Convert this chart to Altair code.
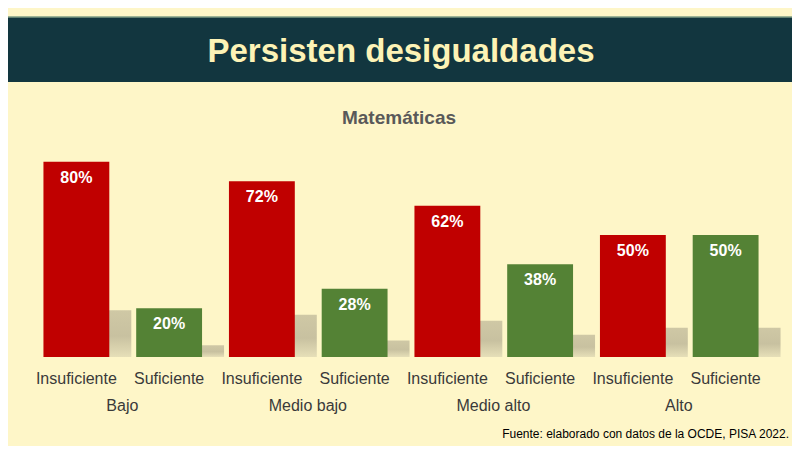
import altair as alt
import pandas as pd

# ---- data ----
levels = ["Bajo", "Medio bajo", "Medio alto", "Alto"]
categories = ["Insuficiente", "Suficiente"]
insuficiente = [80, 72, 62, 50]
suficiente = [20, 28, 38, 50]

title_text = "Persisten desigualdades"
subtitle_text = "Matemáticas"
source_text = "Fuente: elaborado con datos de la OCDE, PISA 2022."

rows = []
for lvl, vi, vs in zip(levels, insuficiente, suficiente):
    for cat, v in zip(categories, [vi, vs]):
        rows.append({"key": f"{lvl}|{cat}", "level": lvl, "cat": cat,
                     "value": v, "label": f"{v}%"})
df = pd.DataFrame(rows)
keys = list(df["key"])
groups = pd.DataFrame({"level": levels, "key": [f"{l}|Insuficiente" for l in levels]})

BG = "#FEF6C8"
BAND = "#12363F"
RED = "#C00000"
GREEN = "#548235"
FONT = "Liberation Sans"

W, H = 742, 244

x_enc = alt.X(
    "key:N", sort=keys, title=None,
    scale=alt.Scale(domain=keys, paddingInner=0.29, paddingOuter=0.145),
    axis=alt.Axis(labelExpr="split(datum.label, '|')[1]", labelAngle=0,
                  labelFontSize=16, labelFont=FONT, labelColor="#3A3A3A",
                  labelPadding=13, domain=False, ticks=False, grid=False),
)
y_scale = alt.Scale(domain=[0, 100])

base = alt.Chart(df)

shadow_fill = alt.LinearGradient(
    gradient="linear", x1=0, y1=0, x2=0, y2=1,
    stops=[alt.GradientStop(offset=0, color="#CFC8A5"),
           alt.GradientStop(offset=0.55, color="#C8C1A0"),
           alt.GradientStop(offset=1, color="#E6DFB8")],
)

shadows = base.transform_calculate(sh="datum.value * 0.24").mark_bar(
    xOffset=22, fill=shadow_fill
).encode(x=x_enc, y=alt.Y("sh:Q", scale=y_scale, axis=None))

bars = base.mark_bar().encode(
    x=x_enc,
    y=alt.Y("value:Q", scale=y_scale, axis=None),
    color=alt.Color("cat:N", scale=alt.Scale(domain=categories, range=[RED, GREEN]),
                    legend=None),
)

pct = base.mark_text(baseline="top", dy=8, color="white", fontSize=16,
                     fontWeight="bold", font=FONT).encode(
    x=x_enc, y=alt.Y("value:Q", scale=y_scale, axis=None), text="label:N")

group_labels = alt.Chart(groups).mark_text(
    dx=46, baseline="alphabetic", fontSize=16, font=FONT, color="#3A3A3A"
).encode(x=x_enc, y=alt.value(298), text="level:N")

one = pd.DataFrame({"title": [title_text], "subtitle": [subtitle_text],
                    "source": [source_text]})

band = alt.Chart(one).mark_rect(color=BAND).encode(
    x=alt.value(-22), x2=alt.value(762), y=alt.value(-96), y2=alt.value(-31))
band_line = alt.Chart(one).mark_rule(color="#7E9C86", strokeWidth=1.5).encode(
    x=alt.value(-22), x2=alt.value(762), y=alt.value(-96))

title = alt.Chart(one).mark_text(
    fontSize=33, fontWeight="bold", font=FONT, color="#FDF3B6",
    baseline="alphabetic", align="center"
).encode(x=alt.value(371), y=alt.value(-51), text="title:N")

subtitle = alt.Chart(one).mark_text(
    fontSize=19, fontWeight="bold", font=FONT, color="#595959",
    baseline="alphabetic", align="center"
).encode(x=alt.value(369), y=alt.value(11), text="subtitle:N")

source = alt.Chart(one).mark_text(
    fontSize=12, font=FONT, color="#000000", baseline="alphabetic", align="right"
).encode(x=alt.value(759), y=alt.value(325), text="source:N")

chart = alt.layer(
    band, band_line, title, subtitle, shadows, bars, pct, group_labels, source
).properties(
    width=W, height=H,
    autosize=alt.AutoSizeParams(type="none"),
    padding={"left": 22, "top": 105, "right": 20, "bottom": 89},
).configure(background=BG).configure_view(strokeWidth=0)

chart.save("out.html", embed_options={"renderer": "svg", "actions": False})
